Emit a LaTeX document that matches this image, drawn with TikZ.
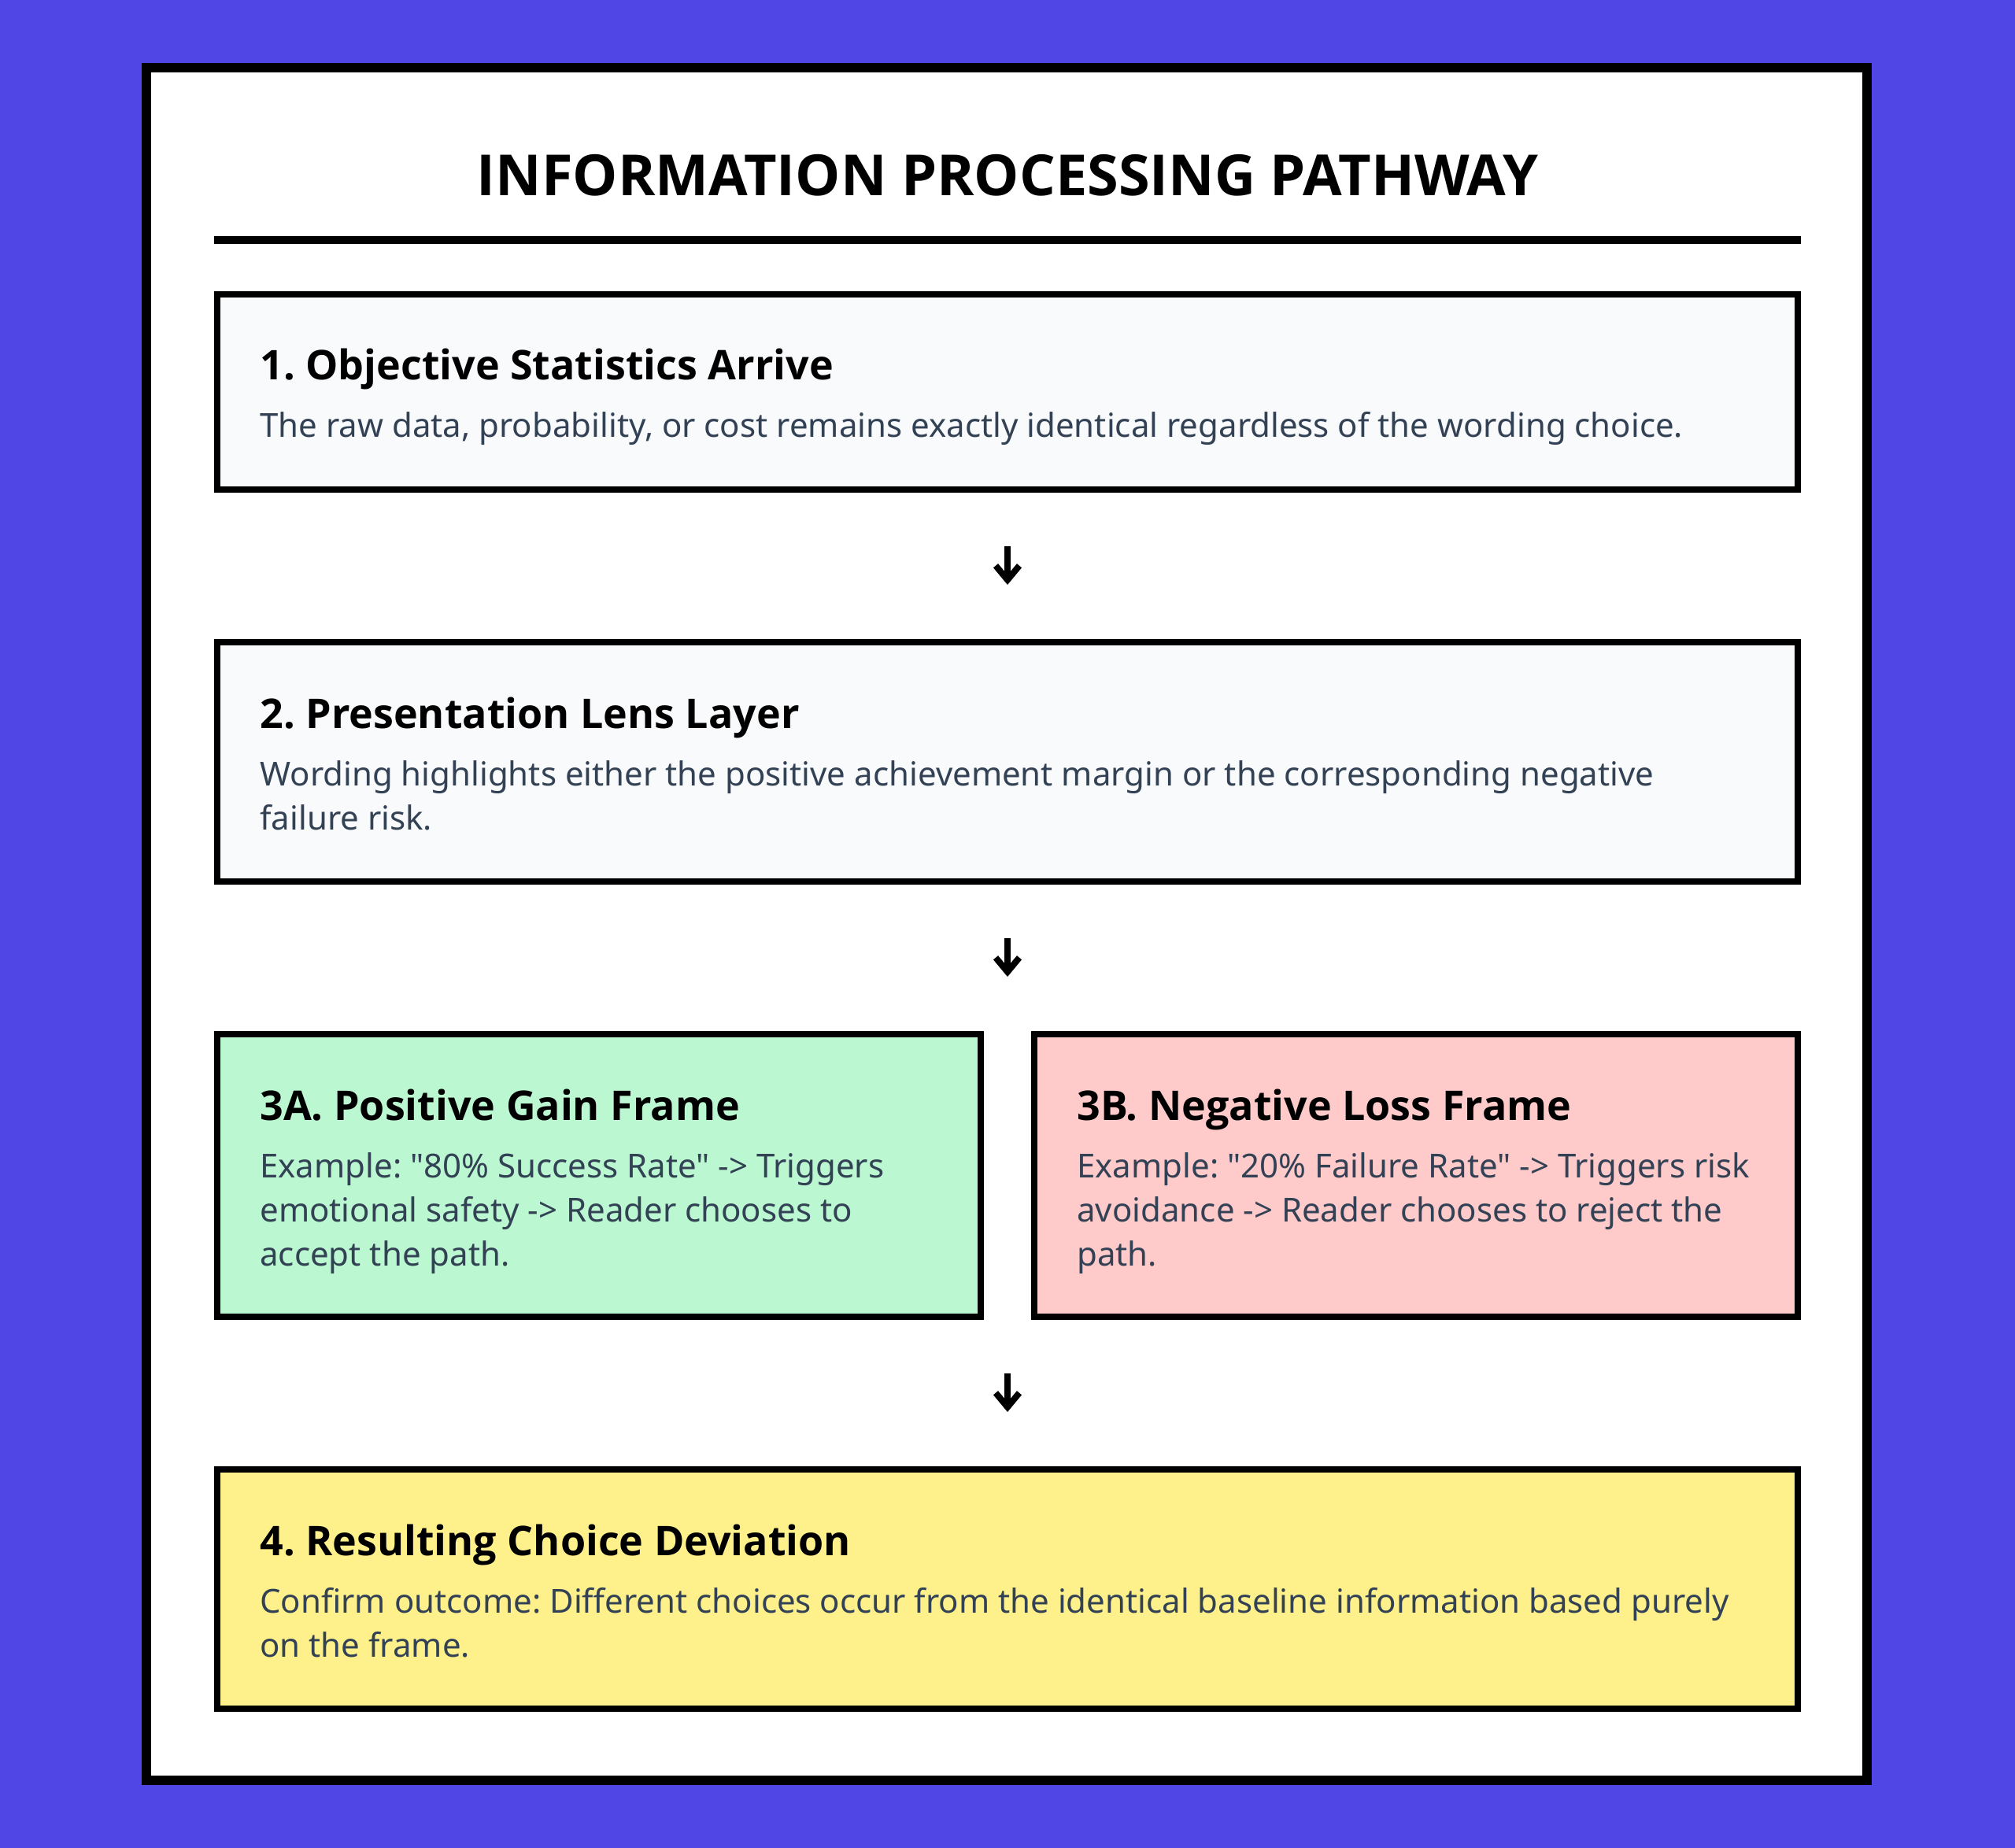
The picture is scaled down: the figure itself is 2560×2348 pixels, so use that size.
\documentclass[tikz,border=0pt]{standalone}
\usepackage{fontspec}
\IfFontExistsTF{Open Sans Bold}
  {\setmainfont{Noto Sans}[BoldFont={Open Sans Bold},Ligatures=TeXOff]}
  {\setmainfont{Noto Sans}[BoldFont={Noto Sans},BoldFeatures={FakeBold=2.5},Ligatures=TeXOff]}
\usetikzlibrary{arrows.meta,positioning}
\definecolor{bgpurple}{HTML}{4F46E5}
\definecolor{slatefill}{HTML}{F8FAFC}
\definecolor{gainfill}{HTML}{BBF7D0}
\definecolor{lossfill}{HTML}{FECACA}
\definecolor{resultfill}{HTML}{FEF08A}
\definecolor{bodytext}{HTML}{334155}
\frenchspacing

\begin{document}
\begin{tikzpicture}[x=0.5pt,y=-0.5pt,
  box/.style={draw=black,line width=4pt,minimum width=1004pt,inner sep=0pt},
  halfbox/.style={box,minimum width=485pt},
  boxtitle/.style={anchor=base west,inner sep=0pt,font=\fontsize{26pt}{32pt}\selectfont\bfseries},
  boxtext/.style={anchor=base west,inner sep=0pt,align=left,text=bodytext,font=\fontsize{21pt}{28pt}\selectfont},
  flowarrow/.style={-{Straight Barb[length=9pt,width=15pt]},line width=4pt,shorten <=34pt,shorten >=34.5pt}]

\fill[bgpurple] (0,0) rectangle (2560,2348);
\useasboundingbox (0,0) rectangle (2560,2348);
\draw[line width=6pt,fill=white] (186,86) rectangle (2372,2262);

\node[anchor=base,inner sep=0pt,font=\fontsize{36pt}{43pt}\selectfont\bfseries] (heading) at (1280,249) {INFORMATION PROCESSING PATHWAY};
\draw[line width=5pt] (272,305) -- (2288,305);

% boxes
\node[box,fill=slatefill,minimum height=124pt] (b1) at (1280,498) {};
\node[box,fill=slatefill,minimum height=152pt] (b2) at (1280,968) {};
\node[halfbox,fill=gainfill,minimum height=179.5pt] (b3a) at (761,1493.5) {};
\node[halfbox,fill=lossfill,minimum height=179.5pt] (b3b) at (1799,1493.5) {};
\node[box,fill=resultfill,minimum height=152pt] (b4) at (1280,2019) {};

% base of a text block is its last line
\node[boxtitle] (t1) at ([shift={(58,113)}]b1.north west) {1. Objective Statistics Arrive};
\node[boxtext] (x1) at ([shift={(58,186)}]b1.north west) {The raw data, probability, or cost remains exactly identical regardless of the wording choice.};

\node[boxtitle] (t2) at ([shift={(58,113)}]b2.north west) {2. Presentation Lens Layer};
\node[boxtext] (x2) at ([shift={(58,242)}]b2.north west) {Wording highlights either the positive achievement margin or the corresponding negative\\failure risk.};

\node[boxtitle] (t3a) at ([shift={(58,113)}]b3a.north west) {3A. Positive Gain Frame};
\node[boxtext] (x3a) at ([shift={(58,298)}]b3a.north west) {Example: "80\% Success Rate" -> Triggers\\emotional safety -> Reader chooses to\\accept the path.};

\node[boxtitle] (t3b) at ([shift={(58,113)}]b3b.north west) {3B. Negative Loss Frame};
\node[boxtext] (x3b) at ([shift={(58,298)}]b3b.north west) {Example: "20\% Failure Rate" -> Triggers risk\\avoidance -> Reader chooses to reject the\\path.};

\node[boxtitle] (t4) at ([shift={(58,113)}]b4.north west) {4. Resulting Choice Deviation};
\node[boxtext] (x4) at ([shift={(58,242)}]b4.north west) {Confirm outcome: Different choices occur from the identical baseline information based purely\\on the frame.};

% arrows
\coordinate (split) at (b2.south |- b3a.north);
\coordinate (merge) at (b4.north |- b3a.south);
\draw[flowarrow] (b1.south) -- (b2.north);
\draw[flowarrow] (b2.south) -- (split);
\draw[flowarrow] (merge) -- (b4.north);

\end{tikzpicture}
\end{document}
